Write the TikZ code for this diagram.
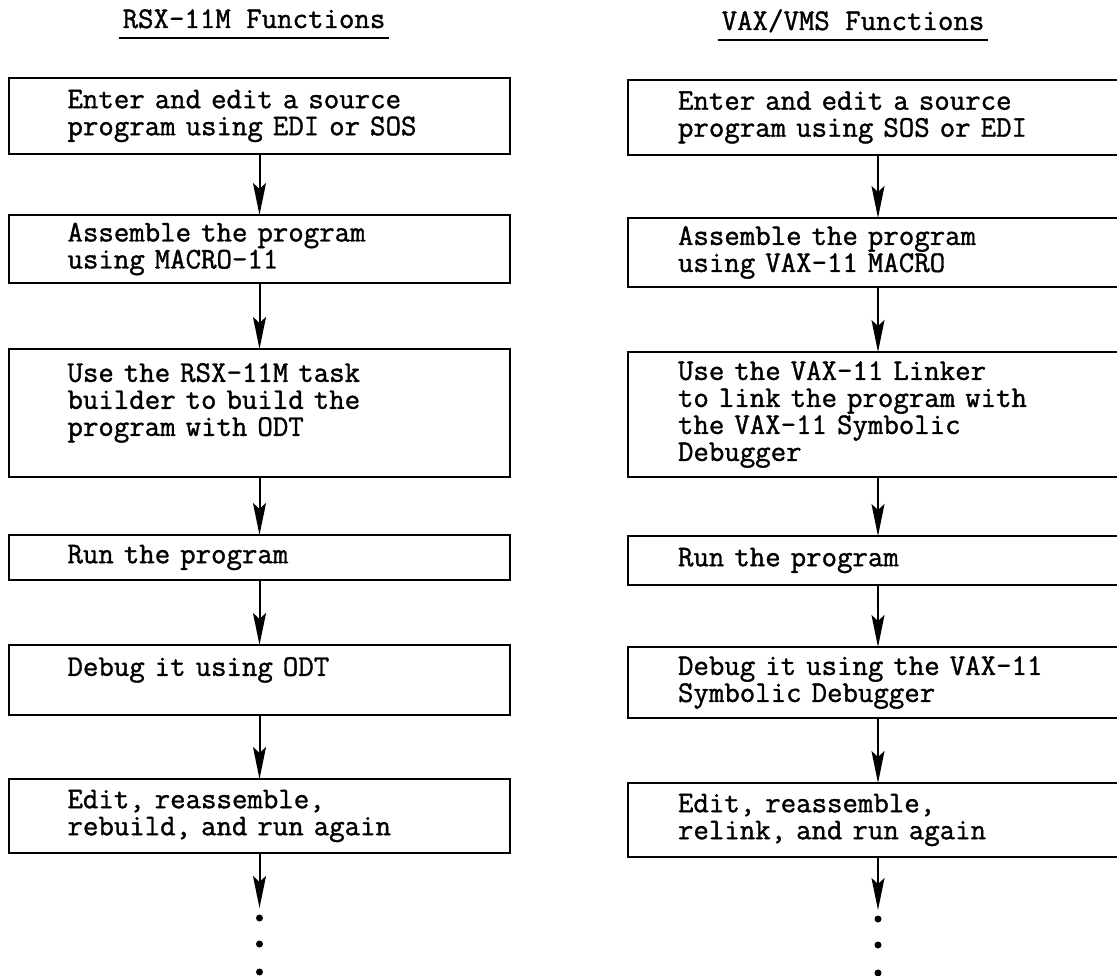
\documentclass[tikz,border=0pt]{standalone}
\usepackage{fontspec}
\usetikzlibrary{arrows.meta}
\newfontfamily\typewr{Latin Modern Mono}[UprightFeatures={FakeBold=1.2}]
\newcommand\boxfont{\typewr\fontsize{30pt}{27pt}\selectfont}
\tikzset{
  stepbox/.style={draw, line width=2.3pt, anchor=north west, align=left,
    text width=384pt, inner xsep=58.5pt, inner ysep=0pt, outer sep=0pt, font=\boxfont},
  vaxbox/.style={stepbox, text width=400pt, inner xsep=50pt},
  heading/.style={anchor=base, inner xsep=4pt, inner ysep=0pt, outer sep=0pt, font=\boxfont},
  uline/.style={line width=2.3pt},
  flow/.style={line width=2pt, -{Stealth[length=32pt, width=13pt, inset=6pt]}}
}
\begin{document}
\begin{tikzpicture}[x=1pt, y=-1pt]
  \path[fill=white, use as bounding box] (0,0) rectangle (1117,976);
  \clip (0,0) rectangle (1117,976);
  % column headings
  \node[heading] (rt) at (254,28) {RSX-11M Functions};
  \node[heading] (vt) at (853,30) {VAX/VMS Functions};
  \draw[uline] ([yshift=-10pt]rt.base west) -- ([yshift=-10pt]rt.base east);
  \draw[uline] ([yshift=-10pt]vt.base west) -- ([yshift=-10pt]vt.base east);
  % RSX-11M steps
  \node[stepbox, minimum height=76pt] (ra) at (9,78) {Enter and edit a source\\program using EDI or SOS};
  \node[stepbox, minimum height=68pt] (rb) at (9,215) {Assemble the program\\using MACRO-11};
  \node[stepbox, minimum height=128pt] (rc) at (9,349) {Use the RSX-11M task\\builder to build the\\program with ODT\\\mbox{}};
  \node[stepbox, minimum height=45pt] (rd) at (9,535) {Run the program};
  \node[stepbox, minimum height=70pt] (re) at (9,645) {Debug it using ODT\\\mbox{}};
  \node[stepbox, minimum height=74pt] (rf) at (9,779) {Edit, reassemble,\\rebuild, and run again};
  \coordinate (rend) at (259.5,908);
  % VAX/VMS steps
  \node[vaxbox, minimum height=75pt] (va) at (628,80) {Enter and edit a source\\program using SOS or EDI};
  \node[vaxbox, minimum height=69pt] (vb) at (628,218) {Assemble the program\\using VAX-11 MACRO};
  \node[vaxbox, minimum height=125pt] (vc) at (628,352) {Use the VAX-11 Linker\\to link the program with\\the VAX-11 Symbolic\\Debugger};
  \node[vaxbox, minimum height=49pt] (vd) at (628,536) {Run the program};
  \node[vaxbox, minimum height=71pt] (ve) at (628,647) {Debug it using the VAX-11\\Symbolic Debugger};
  \node[vaxbox, minimum height=74pt] (vf) at (628,783) {Edit, reassemble,\\relink, and run again};
  \coordinate (vend) at (878,910);
  % connectors
  \draw[flow] (ra) -- (rb);
  \draw[flow] (rb) -- (rc);
  \draw[flow] (rc) -- (rd);
  \draw[flow] (rd) -- (re);
  \draw[flow] (re) -- (rf);
  \draw[flow] (rf) -- (rend);
  \draw[flow] (va) -- (vb);
  \draw[flow] (vb) -- (vc);
  \draw[flow] (vc) -- (vd);
  \draw[flow] (vd) -- (ve);
  \draw[flow] (ve) -- (vf);
  \draw[flow] (vf) -- (vend);
  % continuation dots
  \foreach \y in {918,944,972} {
    \fill (259.5,\y) circle (3.5pt);
    \fill (878,\y+1) circle (3.5pt);
  }
\end{tikzpicture}
\end{document}
